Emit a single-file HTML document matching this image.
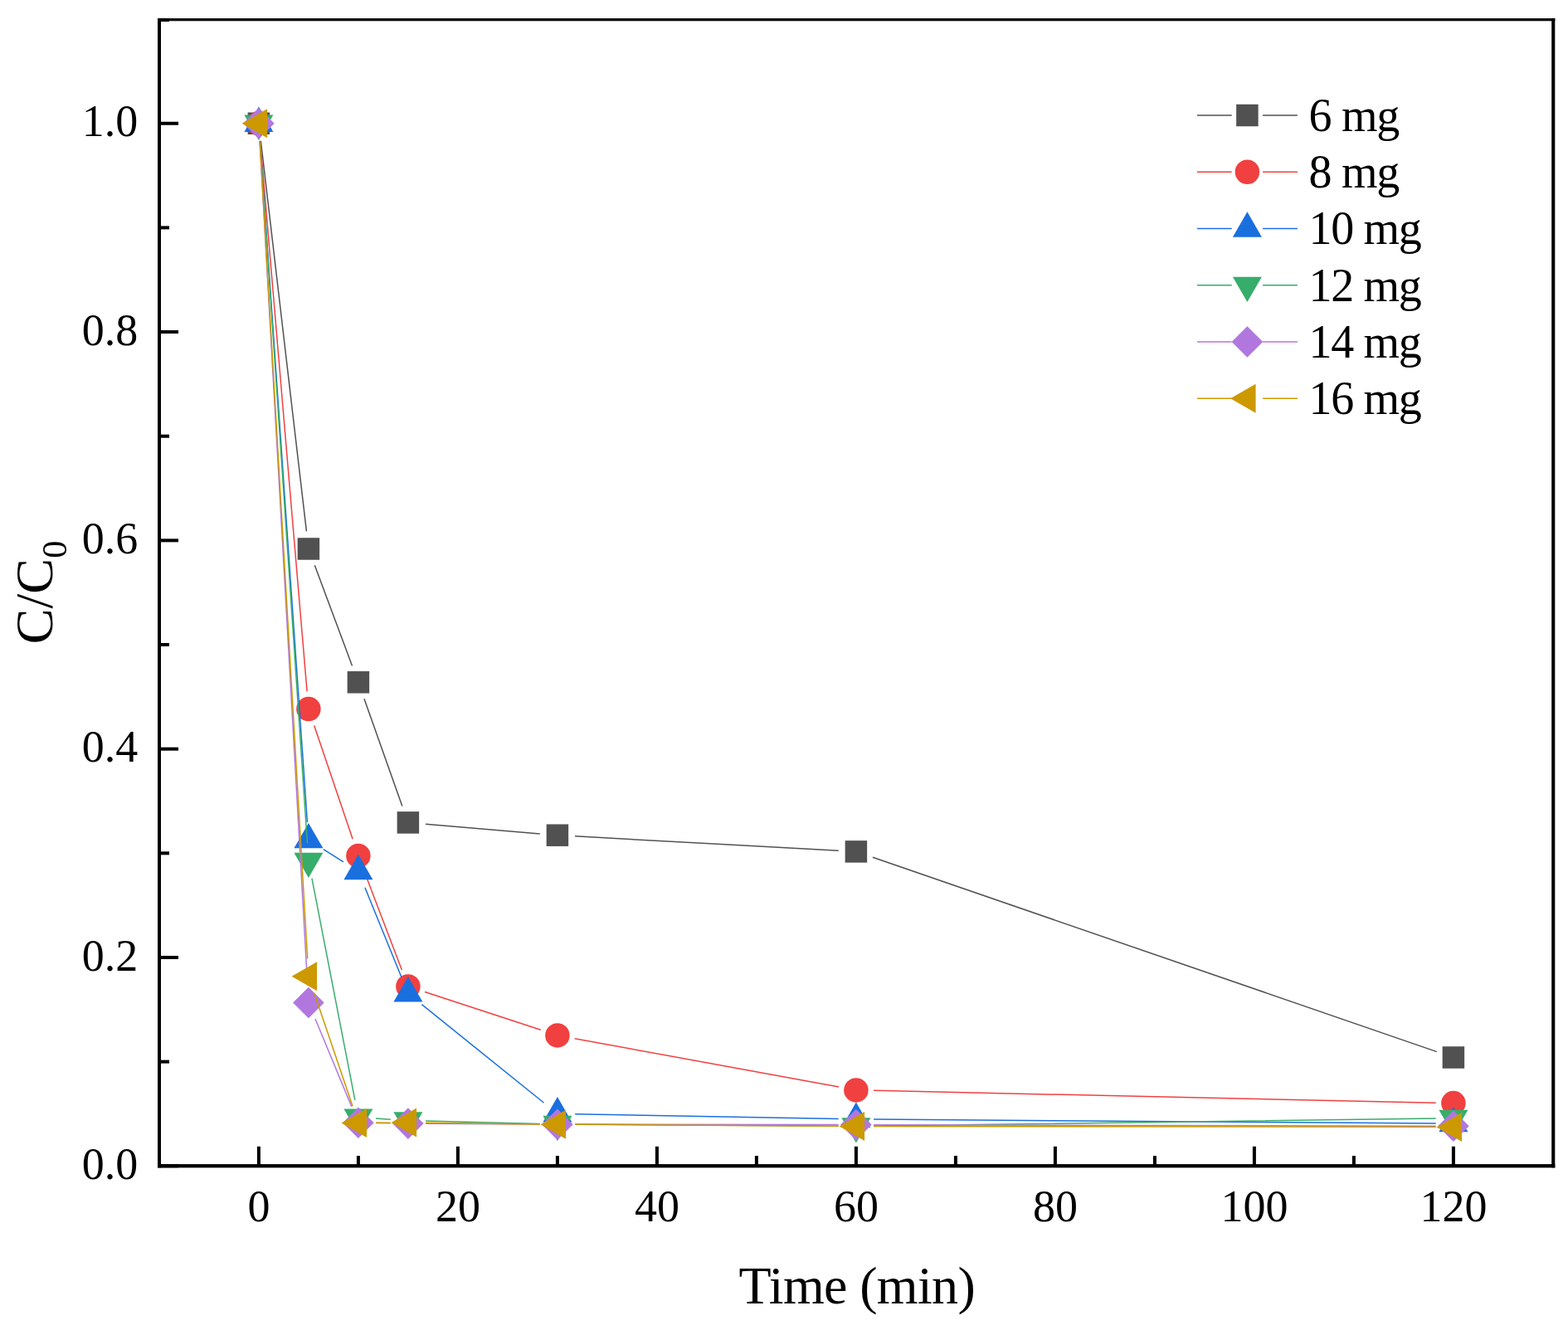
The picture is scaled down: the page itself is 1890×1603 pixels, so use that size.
<!DOCTYPE html>
<html><head><meta charset="utf-8"><title>C/C0 vs Time</title>
<style>
html,body{margin:0;padding:0;background:#fff;}
body{width:1890px;height:1603px;overflow:hidden;}
svg{display:block;}
text{font-family:"Liberation Serif","Times New Roman",serif;fill:#000;}
</style></head><body>
<svg width="1890" height="1603" viewBox="0 0 1890 1603">
<rect width="1890" height="1603" fill="#fff"/>
<g stroke-linecap="butt">
<path d="M314.36,169.81L369.44,640.44M379.31,681.36L424.49,802.44M438.99,842.28L484.81,971.42M513.02,993.20L650.78,1004.90M693.07,1007.86L1010.73,1025.24M1051.94,1033.31L1731.86,1267.59" stroke="#515151" stroke-width="1.5" fill="none"/>
<rect x="298.65" y="135.50" width="26.50" height="26.50" fill="#515151"/>
<rect x="358.65" y="648.25" width="26.50" height="26.50" fill="#515151"/>
<rect x="418.65" y="809.05" width="26.50" height="26.50" fill="#515151"/>
<rect x="478.65" y="978.15" width="26.50" height="26.50" fill="#515151"/>
<rect x="658.65" y="993.45" width="26.50" height="26.50" fill="#515151"/>
<rect x="1018.65" y="1013.15" width="26.50" height="26.50" fill="#515151"/>
<rect x="1738.65" y="1261.25" width="26.50" height="26.50" fill="#515151"/>
<path d="M313.70,169.87L370.10,833.38M378.71,874.58L425.09,1011.32M439.45,1051.21L484.35,1169.09M512.05,1195.50L651.75,1241.30M692.75,1251.72L1011.05,1310.08M1053.09,1314.36L1730.71,1329.14" stroke="#F14040" stroke-width="1.5" fill="none"/>
<circle cx="311.90" cy="148.75" r="14.75" fill="#F14040"/>
<circle cx="371.90" cy="854.50" r="14.75" fill="#F14040"/>
<circle cx="431.90" cy="1031.40" r="14.75" fill="#F14040"/>
<circle cx="491.90" cy="1188.90" r="14.75" fill="#F14040"/>
<circle cx="671.90" cy="1247.90" r="14.75" fill="#F14040"/>
<circle cx="1031.90" cy="1313.90" r="14.75" fill="#F14040"/>
<circle cx="1751.90" cy="1329.60" r="14.75" fill="#F14040"/>
<path d="M313.37,169.90L370.43,991.05M389.82,1023.52L413.98,1038.78M439.90,1069.73L483.90,1177.77M508.41,1210.69L655.39,1329.01M693.10,1342.69L1010.70,1348.51M1053.10,1349.06L1730.70,1354.04" stroke="#1A6FDF" stroke-width="1.5" fill="none"/>
<polygon points="311.90,128.45 329.40,158.90 294.40,158.90" fill="#1A6FDF"/>
<polygon points="371.90,991.90 389.40,1022.35 354.40,1022.35" fill="#1A6FDF"/>
<polygon points="431.90,1029.80 449.40,1060.25 414.40,1060.25" fill="#1A6FDF"/>
<polygon points="491.90,1177.10 509.40,1207.55 474.40,1207.55" fill="#1A6FDF"/>
<polygon points="671.90,1322.00 689.40,1352.45 654.40,1352.45" fill="#1A6FDF"/>
<polygon points="1031.90,1328.60 1049.40,1359.05 1014.40,1359.05" fill="#1A6FDF"/>
<polygon points="1751.90,1333.90 1769.40,1364.35 1734.40,1364.35" fill="#1A6FDF"/>
<path d="M313.33,169.90L370.47,1016.65M375.94,1058.61L427.86,1325.89M453.06,1348.04L470.74,1349.16M513.09,1351.02L650.71,1354.38M693.10,1355.04L1010.70,1357.16M1053.10,1357.02L1730.70,1348.08" stroke="#37AD6B" stroke-width="1.5" fill="none"/>
<polygon points="311.90,169.05 329.40,138.60 294.40,138.60" fill="#37AD6B"/>
<polygon points="371.90,1058.10 389.40,1027.65 354.40,1027.65" fill="#37AD6B"/>
<polygon points="431.90,1367.00 449.40,1336.55 414.40,1336.55" fill="#37AD6B"/>
<polygon points="491.90,1370.80 509.40,1340.35 474.40,1340.35" fill="#37AD6B"/>
<polygon points="671.90,1375.20 689.40,1344.75 654.40,1344.75" fill="#37AD6B"/>
<polygon points="1031.90,1377.60 1049.40,1347.15 1014.40,1347.15" fill="#37AD6B"/>
<polygon points="1751.90,1368.10 1769.40,1337.65 1734.40,1337.65" fill="#37AD6B"/>
<path d="M313.10,169.92L370.70,1187.33M380.02,1228.08L423.78,1333.62M453.10,1353.52L470.70,1353.78M513.10,1354.23L650.70,1355.07M693.10,1355.22L1010.70,1355.58M1053.10,1355.65L1730.70,1357.15" stroke="#B177DE" stroke-width="1.5" fill="none"/>
<polygon points="311.90,129.95 330.70,148.75 311.90,167.55 293.10,148.75" fill="#B177DE"/>
<polygon points="371.90,1189.70 390.70,1208.50 371.90,1227.30 353.10,1208.50" fill="#B177DE"/>
<polygon points="431.90,1334.40 450.70,1353.20 431.90,1372.00 413.10,1353.20" fill="#B177DE"/>
<polygon points="491.90,1335.30 510.70,1354.10 491.90,1372.90 473.10,1354.10" fill="#B177DE"/>
<polygon points="671.90,1336.40 690.70,1355.20 671.90,1374.00 653.10,1355.20" fill="#B177DE"/>
<polygon points="1031.90,1336.80 1050.70,1355.60 1031.90,1374.40 1013.10,1355.60" fill="#B177DE"/>
<polygon points="1751.90,1338.40 1770.70,1357.20 1751.90,1376.00 1733.10,1357.20" fill="#B177DE"/>
<path d="M313.14,169.91L370.66,1155.54M378.72,1196.77L425.08,1333.33M453.10,1353.26L470.70,1353.14M513.10,1353.26L650.70,1354.94M693.10,1355.33L1010.70,1357.27M1053.10,1357.43L1730.70,1358.37" stroke="#CC9900" stroke-width="1.5" fill="none"/>
<polygon points="291.60,148.75 322.05,131.25 322.05,166.25" fill="#CC9900"/>
<polygon points="351.60,1176.70 382.05,1159.20 382.05,1194.20" fill="#CC9900"/>
<polygon points="411.60,1353.40 442.05,1335.90 442.05,1370.90" fill="#CC9900"/>
<polygon points="471.60,1353.00 502.05,1335.50 502.05,1370.50" fill="#CC9900"/>
<polygon points="651.60,1355.20 682.05,1337.70 682.05,1372.70" fill="#CC9900"/>
<polygon points="1011.60,1357.40 1042.05,1339.90 1042.05,1374.90" fill="#CC9900"/>
<polygon points="1731.60,1358.40 1762.05,1340.90 1762.05,1375.90" fill="#CC9900"/>
</g>
<g fill="#000">
<rect x="190" y="22.1" width="1684.3" height="3.2"/>
<rect x="190" y="1403.1" width="1684.3" height="4.3"/>
<rect x="190" y="22.1" width="4.0" height="1385.3"/>
<rect x="1870.2" y="22.1" width="4.1" height="1385.3"/>
<rect x="309.90" y="1381.80" width="4" height="23.5"/>
<rect x="429.90" y="1393.10" width="4" height="12.2"/>
<rect x="549.90" y="1381.80" width="4" height="23.5"/>
<rect x="669.90" y="1393.10" width="4" height="12.2"/>
<rect x="789.90" y="1381.80" width="4" height="23.5"/>
<rect x="909.90" y="1393.10" width="4" height="12.2"/>
<rect x="1029.90" y="1381.80" width="4" height="23.5"/>
<rect x="1149.90" y="1393.10" width="4" height="12.2"/>
<rect x="1269.90" y="1381.80" width="4" height="23.5"/>
<rect x="1389.90" y="1393.10" width="4" height="12.2"/>
<rect x="1509.90" y="1381.80" width="4" height="23.5"/>
<rect x="1629.90" y="1393.10" width="4" height="12.2"/>
<rect x="1749.90" y="1381.80" width="4" height="23.5"/>
<rect x="192" y="1403.30" width="23" height="4"/>
<rect x="192" y="1277.64" width="12" height="4"/>
<rect x="192" y="1151.99" width="23" height="4"/>
<rect x="192" y="1026.34" width="12" height="4"/>
<rect x="192" y="900.68" width="23" height="4"/>
<rect x="192" y="775.02" width="12" height="4"/>
<rect x="192" y="649.37" width="23" height="4"/>
<rect x="192" y="523.71" width="12" height="4"/>
<rect x="192" y="398.06" width="23" height="4"/>
<rect x="192" y="272.40" width="12" height="4"/>
<rect x="192" y="146.75" width="23" height="4"/>
<rect x="192" y="22.10" width="12" height="4"/>
</g>
<text x="311.90" y="1472.4" font-size="54" text-anchor="middle">0</text>
<text x="551.90" y="1472.4" font-size="54" text-anchor="middle">20</text>
<text x="791.90" y="1472.4" font-size="54" text-anchor="middle">40</text>
<text x="1031.90" y="1472.4" font-size="54" text-anchor="middle">60</text>
<text x="1271.90" y="1472.4" font-size="54" text-anchor="middle">80</text>
<text x="1511.90" y="1472.4" font-size="54" text-anchor="middle">100</text>
<text x="1751.90" y="1472.4" font-size="54" text-anchor="middle">120</text>
<text x="166.2" y="1420.90" font-size="54" text-anchor="end">0.0</text>
<text x="166.2" y="1169.59" font-size="54" text-anchor="end">0.2</text>
<text x="166.2" y="918.28" font-size="54" text-anchor="end">0.4</text>
<text x="166.2" y="666.97" font-size="54" text-anchor="end">0.6</text>
<text x="166.2" y="415.66" font-size="54" text-anchor="end">0.8</text>
<text x="166.2" y="164.35" font-size="54" text-anchor="end">1.0</text>
<text x="890.6" y="1571.2" font-size="64" letter-spacing="-0.65">Time (min)</text>
<text transform="translate(63.3,776.2) rotate(-90)" font-size="64">C/C<tspan font-size="43" dy="16.6">0</tspan></text>
<path d="M1443,139.00H1484.7M1522.1,139.00H1563.9" stroke="#515151" stroke-width="1.5" fill="none"/>
<rect x="1490.15" y="125.75" width="26.50" height="26.50" fill="#515151"/>
<text x="1577.5" y="157.90" font-size="56" letter-spacing="-1.3">6 mg</text>
<path d="M1443,207.26H1484.7M1522.1,207.26H1563.9" stroke="#F14040" stroke-width="1.5" fill="none"/>
<circle cx="1503.40" cy="207.26" r="14.75" fill="#F14040"/>
<text x="1577.5" y="226.16" font-size="56" letter-spacing="-1.3">8 mg</text>
<path d="M1443,275.52H1484.7M1522.1,275.52H1563.9" stroke="#1A6FDF" stroke-width="1.5" fill="none"/>
<polygon points="1503.40,255.22 1520.90,285.67 1485.90,285.67" fill="#1A6FDF"/>
<text x="1577.5" y="294.42" font-size="56" letter-spacing="-1.3">10 mg</text>
<path d="M1443,343.78H1484.7M1522.1,343.78H1563.9" stroke="#37AD6B" stroke-width="1.5" fill="none"/>
<polygon points="1503.40,364.08 1520.90,333.63 1485.90,333.63" fill="#37AD6B"/>
<text x="1577.5" y="362.68" font-size="56" letter-spacing="-1.3">12 mg</text>
<path d="M1443,412.04H1484.7M1522.1,412.04H1563.9" stroke="#B177DE" stroke-width="1.5" fill="none"/>
<polygon points="1503.40,393.24 1522.20,412.04 1503.40,430.84 1484.60,412.04" fill="#B177DE"/>
<text x="1577.5" y="430.94" font-size="56" letter-spacing="-1.3">14 mg</text>
<path d="M1443,480.30H1484.7M1522.1,480.30H1563.9" stroke="#CC9900" stroke-width="1.5" fill="none"/>
<polygon points="1483.10,480.30 1513.55,462.80 1513.55,497.80" fill="#CC9900"/>
<text x="1577.5" y="499.20" font-size="56" letter-spacing="-1.3">16 mg</text>
</svg></body></html>
